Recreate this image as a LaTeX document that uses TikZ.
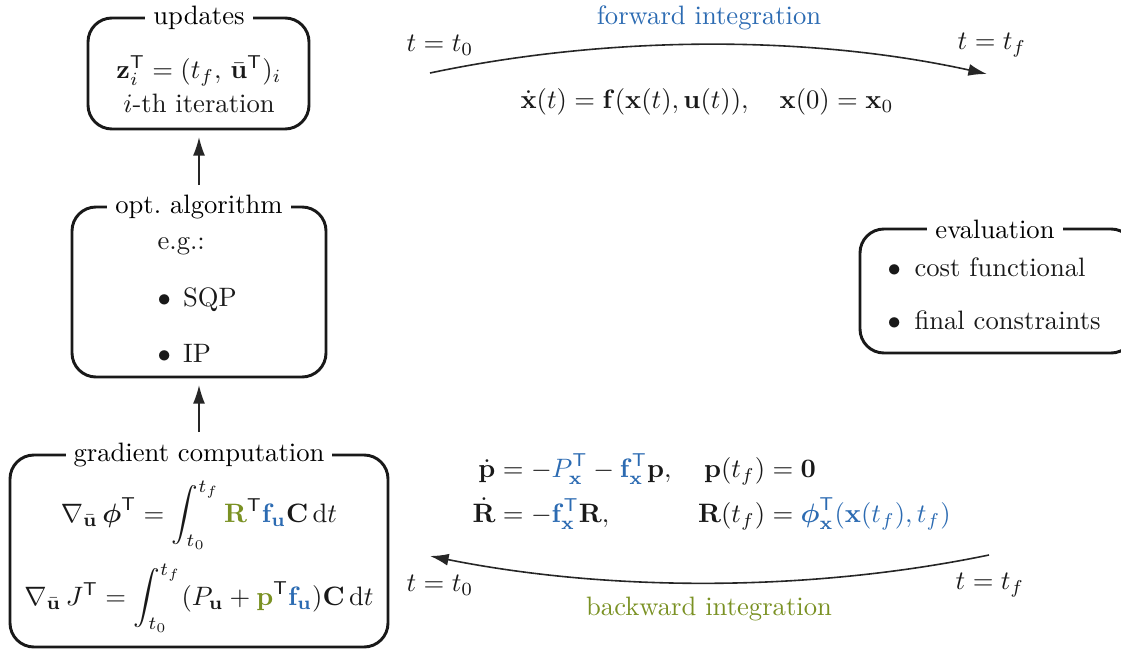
\documentclass[tikz,border=0pt]{standalone}
\usepackage{amsmath,amssymb}
\usetikzlibrary{arrows.meta}
\definecolor{fblue}{RGB}{44,107,178}
\definecolor{bgreen}{RGB}{122,145,35}
\tikzset{
  box/.style={draw=black!90, line width=1.1pt, rounded corners=9pt},
  boxtitle/.style={fill=white, inner xsep=3pt, inner ysep=1pt},
  flow/.style={-{Latex[length=7pt,width=4.5pt]}, line width=0.6pt, black!85},
  txt/.style={inner sep=0pt, text=black!90}
}
\begin{document}
\begin{tikzpicture}[x=0.0132cm,y=-0.0132cm]
\useasboundingbox (0,0) rectangle (1121,649);
% updates box
\draw[box] (88,18) rectangle (309,129);
\node[boxtitle] (upd) at (199,18) {updates};
\node[txt] (updeq) at (199,71) {$\mathbf z_i^{\mathsf T} = (t_f,\,\bar{\mathbf u}^{\mathsf T})_i$};
\node[txt] (upditer) at (199,103) {$i$-th iteration};
\coordinate (updb) at (199,137);
% opt algorithm box
\draw[box] (72,207) rectangle (326,377);
\node[boxtitle] (opt) at (199,207) {opt.\ algorithm};
\node[txt, anchor=west] (eg) at (157,246) {e.g.:};
\node[txt, anchor=west] (sqp) at (157,300) {$\bullet$\ \kern1.3pt SQP};
\node[txt, anchor=west] (ip) at (157,353) {$\bullet$\ \kern1.3pt IP};
\coordinate (optt) at (199,185);
\coordinate (optb) at (199,385);
% gradient box
\draw[box] (10,455) rectangle (388,647);
\node[boxtitle] (grad) at (199,455) {gradient computation};
\node[txt] (g1) at (199,515) {$\nabla_{\bar{\mathbf u}}\,\boldsymbol\phi^{\mathsf T} = \displaystyle\int_{t_0}^{t_f} {\color{bgreen}\mathbf R}^{\mathsf T}{\color{fblue}\mathbf f_{\mathbf u}}\mathbf C\,\mathrm dt$};
\node[txt] (g2) at (199,598) {$\nabla_{\bar{\mathbf u}}\,J^{\mathsf T} = \displaystyle\int_{t_0}^{t_f} (P_{\mathbf u} + {\color{bgreen}\mathbf p}^{\mathsf T}{\color{fblue}\mathbf f_{\mathbf u}})\mathbf C\,\mathrm dt$};
\coordinate (gradt) at (199,432);
% evaluation box
\draw[box] (860,229) rectangle (1135,353);
\node[boxtitle] (eval) at (995,229) {evaluation};
\node[txt, anchor=west] (cost) at (887,267) {$\bullet$\ \kern1.8pt cost functional};
\node[txt, anchor=west] (fin) at (887,320) {$\bullet$\ \kern1.8pt final constraints};
% arrows between boxes
\draw[flow] (optt) -- (updb);
\draw[flow] (gradt) -- (optb);
% forward integration
\coordinate (fs) at (430,73);
\coordinate (fe) at (987,74);
\draw[flow] (fs) .. controls (610,35) and (810,35) .. (fe);
\node[txt] (ft0) at (440,45) {$t = t_0$};
\node[txt] (ftf) at (992,45) {$t = t_f$};
\node[txt, text=fblue] (fwd) at (709,18) {forward integration};
\node[txt] (feq) at (707,102) {$\dot{\mathbf x}(t) = \mathbf f(\mathbf x(t),\mathbf u(t)),\quad \mathbf x(0) = \mathbf x_0$};
% backward integration
\coordinate (bs) at (989,555);
\coordinate (be) at (430,556);
\draw[flow] (bs) .. controls (810,592) and (610,592) .. (be);
\node[txt] (bt0) at (440,585) {$t = t_0$};
\node[txt] (btf) at (990,585) {$t = t_f$};
\node[txt, text=bgreen] (bwd) at (709,609) {backward integration};
\node[txt, anchor=west] (beq) at (472,493) {$\begin{aligned}
\dot{\mathbf p} &= -{\color{fblue}P_{\mathbf x}^{\mathsf T}} - {\color{fblue}\mathbf f_{\mathbf x}^{\mathsf T}}\mathbf p, & \mathbf p(t_f) &= \mathbf 0\\
\dot{\mathbf R} &= -{\color{fblue}\mathbf f_{\mathbf x}^{\mathsf T}}\mathbf R, & \mathbf R(t_f) &= {\color{fblue}\boldsymbol\phi_{\mathbf x}^{\mathsf T}(\mathbf x(t_f),t_f)}
\end{aligned}$};
\end{tikzpicture}
\end{document}
